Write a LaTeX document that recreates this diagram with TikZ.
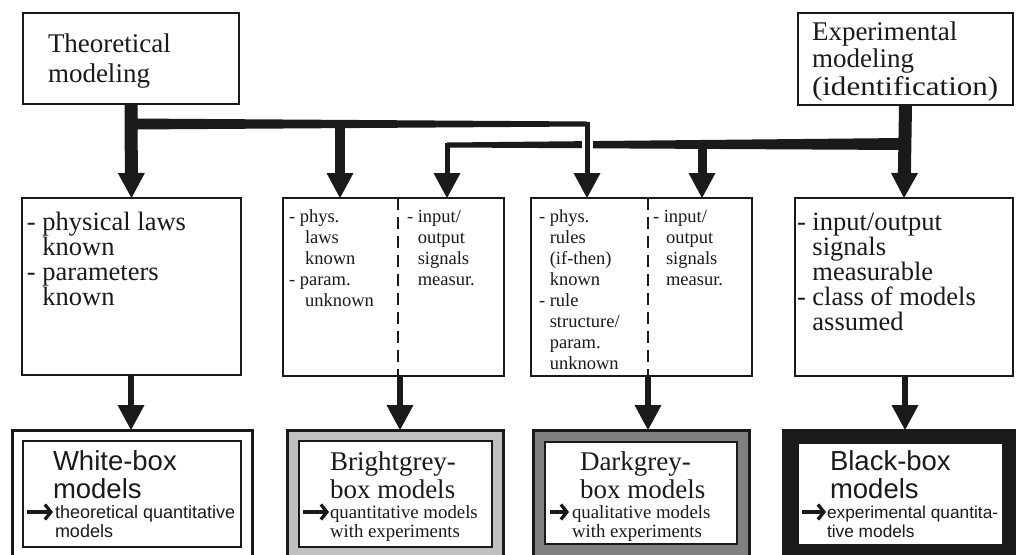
\documentclass[tikz,border=0pt]{standalone}
\usepackage{fontspec}
\usepackage{graphicx}
\setmainfont{Liberation Serif}
\newfontfamily\sansf{Liberation Sans}
\usetikzlibrary{arrows.meta}
\definecolor{ink}{HTML}{1A1A1A}
\definecolor{brightg}{HTML}{C0C0C0}
\definecolor{darkg}{HTML}{808080}
\begin{document}
\begin{tikzpicture}[x=1pt,y=-1pt,
  box/.style={draw=ink, line width=2.8pt, anchor=north west, inner sep=0pt, outer sep=0pt, fill=white},
  tx/.style={anchor=base west, inner sep=0pt, outer sep=0pt, text=ink},
  conn/.style={draw=ink, -{Triangle[width=27pt,length=25pt,line width=0pt]}},
  divider/.style={draw=ink, line width=2.5pt, dash pattern=on 12pt off 7pt},
  mini/.style={draw=ink, line width=3.3pt, -{Straight Barb[length=6pt,width=15pt]}}
]
\clip (0,0) rectangle (1016,554);
\fill[white] (0,0) rectangle (1016,554);

% top boxes
\node[box, minimum width=216pt, minimum height=91pt] (T) at (23,13) {};
\node[box, minimum width=215pt, minimum height=92pt] (E) at (798,13) {};
\node[tx] (Ttx) at (48,52) {\parbox[t]{200pt}{\fontsize{27}{30}\selectfont Theoretical\\modeling}};
\node[tx] (Etx) at (812,40) {\parbox[t]{200pt}{\fontsize{27}{27.5}\selectfont Experimental\\modeling\\\scalebox{1.15}[1]{(identification)}}};

% middle boxes
\node[box, minimum width=219pt, minimum height=177pt] (A) at (22,198) {};
\node[box, minimum width=221pt, minimum height=178pt] (B) at (283,198) {};
\node[box, minimum width=221pt, minimum height=178pt] (C) at (531,198) {};
\node[box, minimum width=218pt, minimum height=178pt] (D) at (795,198) {};

\coordinate (d1) at (398,0);
\coordinate (d2) at (648,0);
\draw[divider] (d1 |- B.north) -- (d1 |- B.south);
\draw[divider] (d2 |- C.north) -- (d2 |- C.south);

\node[tx] (Atx) at (27,230) {\parbox[t]{210pt}{\fontsize{26.5}{25.3}\selectfont - physical laws\\\phantom{- }known\\- parameters\\\phantom{- }known}};
\node[tx] (B1tx) at (289,222) {\parbox[t]{105pt}{\fontsize{18.5}{21}\selectfont - phys.\\\hspace*{16pt}laws\\\hspace*{16pt}known\\- param.\\\hspace*{16pt}unknown}};
\node[tx] (B2tx) at (407,222) {\parbox[t]{95pt}{\fontsize{18.5}{21}\selectfont - input/\\\phantom{- }output\\\phantom{- }signals\\\phantom{- }measur.}};
\node[tx] (C1tx) at (539,222) {\parbox[t]{105pt}{\fontsize{18.5}{21}\selectfont - phys.\\\phantom{- }rules\\\phantom{- }(if-then)\\\phantom{- }known\\- rule\\\phantom{- }structure/\\\phantom{- }param.\\\phantom{- }unknown}};
\node[tx] (C2tx) at (653,222) {\parbox[t]{95pt}{\fontsize{18.5}{21}\selectfont - input/\\\hspace*{13pt}output\\\hspace*{13pt}signals\\\hspace*{13pt}measur.}};
\node[tx] (Dtx) at (797,230) {\parbox[t]{215pt}{\fontsize{26.5}{25}\selectfont - input/output\\\phantom{- }signals\\\phantom{- }measurable\\- class of models\\\phantom{- }assumed}};

% bottom boxes
\node[box, line width=3pt, minimum width=240pt, minimum height=140pt] (W) at (12,430) {};
\node[box, line width=3pt, minimum width=216pt, minimum height=140pt, fill=brightg] (Br) at (287,430) {};
\node[box, line width=3pt, minimum width=216pt, minimum height=140pt, fill=darkg] (Dk) at (533,430) {};
\node[box, line width=3pt, minimum width=232pt, minimum height=140pt, fill=ink] (Bk) at (783,430) {};
\node[box, line width=2.5pt, minimum width=218pt, minimum height=106pt] (Wi) at (23,441) {};
\node[box, line width=2.5pt, minimum width=193pt, minimum height=106pt] (Bri) at (299,441) {};
\node[box, line width=2.5pt, minimum width=192pt, minimum height=102pt] (Dki) at (545,442) {};
\node[box, line width=2.5pt, minimum width=205pt, minimum height=102pt] (Bki) at (798,443) {};

\node[tx] (Wt) at (53,470) {\parbox[t]{190pt}{\sansf\fontsize{27.5}{28}\selectfont White-box\\models}};
\node[tx] (Ws) at (55,518) {\parbox[t]{250pt}{\sansf\fontsize{18}{19}\selectfont theoretical quantitative\\models}};
\node[tx] (Brt) at (330,470) {\parbox[t]{190pt}{\fontsize{27}{28}\selectfont Brightgrey-\\box models}};
\node[tx] (Brs) at (330,518) {\parbox[t]{250pt}{\fontsize{18.8}{19}\selectfont quantitative models\\with experiments}};
\node[tx] (Dkt) at (580,470) {\parbox[t]{190pt}{\fontsize{27}{28}\selectfont Darkgrey-\\box models}};
\node[tx] (Dks) at (572,518) {\parbox[t]{250pt}{\fontsize{18.8}{19}\selectfont qualitative models\\with experiments}};
\node[tx] (Bkt) at (830,470) {\parbox[t]{190pt}{\sansf\fontsize{27.5}{28}\selectfont Black-box\\models}};
\node[tx] (Bks) at (827,518) {\parbox[t]{250pt}{\sansf\fontsize{17.3}{19}\selectfont experimental quantita-\\tive models}};

\coordinate (w1) at (27,512);  \coordinate (w2) at (53,512);
\coordinate (b1) at (303,512); \coordinate (b2) at (329,512);
\coordinate (k1) at (550,512); \coordinate (k2) at (569,512);
\coordinate (x1) at (802,512); \coordinate (x2) at (826,512);
\draw[mini] (w1) -- (w2);
\draw[mini] (b1) -- (b2);
\draw[mini] (k1) -- (k2);
\draw[mini] (x1) -- (x2);

% connectors top
\coordinate (tj) at (131,124);
\coordinate (tc) at (587,124);
\coordinate (tb) at (340,124);
\coordinate (ej) at (904,144);
\coordinate (ec) at (447,145);
\coordinate (eb) at (702,144);

\draw[conn, line width=13pt] (T.south) -- (A.north);
\draw[conn, line width=13pt] (E.south) -- (D.north);

% experimental bar
\fill[ink] ([yshift=6pt]ej) -- ([yshift=2.5pt]ec) -- ([yshift=-2.5pt]ec) -- ([yshift=-6pt]ej) -- cycle;
\draw[conn, line width=5pt] ([yshift=2.5pt]ec) -- (ec |- B.north);
\draw[conn, line width=9pt] (eb) -- (eb |- C.north);
% gap
\draw[white, line width=11pt] ([yshift=-10pt]tc) -- ([yshift=-32pt]tc);
% theoretical bar
\fill[ink] ([yshift=5.5pt]tj) -- ([yshift=2.5pt]tc) -- ([yshift=-2.5pt]tc) -- ([yshift=-5.5pt]tj) -- cycle;
\draw[conn, line width=5pt] ([yshift=2.5pt]tc) -- (tc |- C.north);
\draw[conn, line width=10pt] (tb) -- (tb |- B.north);

% connectors bottom
\coordinate (c1) at (131,0);
\coordinate (c2) at (400,0);
\coordinate (c3) at (648,0);
\coordinate (c4) at (905,0);
\draw[conn, line width=6pt] (c1 |- A.south) -- (c1 |- W.north);
\draw[conn, line width=6pt] (c2 |- B.south) -- (c2 |- Br.north);
\draw[conn, line width=6pt] (c3 |- C.south) -- (c3 |- Dk.north);
\draw[conn, line width=6pt] (c4 |- D.south) -- (c4 |- Bk.north);
\end{tikzpicture}
\end{document}
